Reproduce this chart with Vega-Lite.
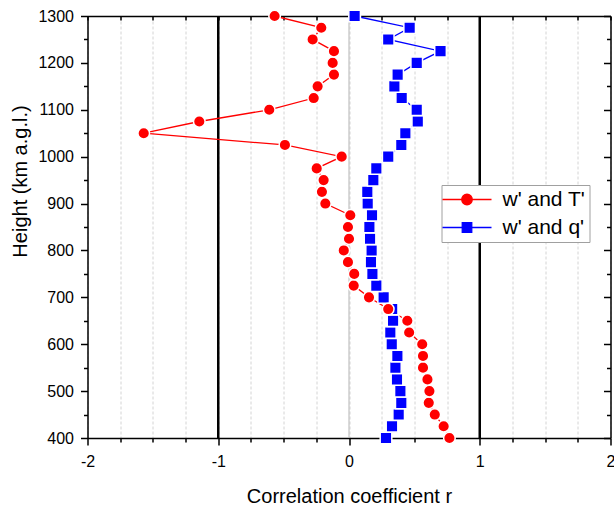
{
  "$schema": "https://vega.github.io/schema/vega-lite/v6.json",
  "autosize": {"type": "none"},
  "padding": {"left": 87.5, "top": 16, "right": 3.5, "bottom": 70},
  "width": 523,
  "height": 422,
  "config": {
    "view": {"stroke": null},
    "font": "Liberation Sans",
    "axis": {
      "domainColor": "black",
      "domainWidth": 1.5,
      "tickColor": "black",
      "tickWidth": 1.5,
      "labelFont": "Liberation Sans",
      "labelFontSize": 16,
      "labelColor": "black",
      "labelFlush": false,
      "labelOverlap": false,
      "labelBound": false,
      "titleFont": "Liberation Sans",
      "titleFontSize": 20,
      "titleFontWeight": "normal",
      "titleColor": "black"
    },
    "legend": {
      "title": null,
      "orient": "none",
      "legendX": 354,
      "legendY": 169,
      "padding": 4,
      "strokeColor": "#a0a0a0",
      "fillColor": "white",
      "labelFont": "Liberation Sans",
      "labelFontSize": 21,
      "labelColor": "black",
      "symbolSize": 100,
      "symbolStrokeWidth": 1.3,
      "symbolOffset": 11,
      "labelOffset": 25,
      "rowPadding": 6
    }
  },
  "datasets": {
    "corr": [
      {"h": 400, "r": 0.283, "s": "w' and q'"},
      {"h": 425, "r": 0.329, "s": "w' and q'"},
      {"h": 450, "r": 0.38, "s": "w' and q'"},
      {"h": 475, "r": 0.40, "s": "w' and q'"},
      {"h": 500, "r": 0.393, "s": "w' and q'"},
      {"h": 525, "r": 0.367, "s": "w' and q'"},
      {"h": 550, "r": 0.355, "s": "w' and q'"},
      {"h": 575, "r": 0.37, "s": "w' and q'"},
      {"h": 600, "r": 0.327, "s": "w' and q'"},
      {"h": 625, "r": 0.316, "s": "w' and q'"},
      {"h": 650, "r": 0.337, "s": "w' and q'"},
      {"h": 675, "r": 0.33, "s": "w' and q'"},
      {"h": 700, "r": 0.265, "s": "w' and q'"},
      {"h": 725, "r": 0.209, "s": "w' and q'"},
      {"h": 750, "r": 0.179, "s": "w' and q'"},
      {"h": 775, "r": 0.168, "s": "w' and q'"},
      {"h": 800, "r": 0.173, "s": "w' and q'"},
      {"h": 825, "r": 0.161, "s": "w' and q'"},
      {"h": 850, "r": 0.156, "s": "w' and q'"},
      {"h": 875, "r": 0.176, "s": "w' and q'"},
      {"h": 900, "r": 0.143, "s": "w' and q'"},
      {"h": 925, "r": 0.14, "s": "w' and q'"},
      {"h": 950, "r": 0.186, "s": "w' and q'"},
      {"h": 975, "r": 0.209, "s": "w' and q'"},
      {"h": 1000, "r": 0.30, "s": "w' and q'"},
      {"h": 1025, "r": 0.40, "s": "w' and q'"},
      {"h": 1050, "r": 0.431, "s": "w' and q'"},
      {"h": 1075, "r": 0.526, "s": "w' and q'"},
      {"h": 1100, "r": 0.518, "s": "w' and q'"},
      {"h": 1125, "r": 0.403, "s": "w' and q'"},
      {"h": 1150, "r": 0.347, "s": "w' and q'"},
      {"h": 1175, "r": 0.372, "s": "w' and q'"},
      {"h": 1200, "r": 0.518, "s": "w' and q'"},
      {"h": 1225, "r": 0.70, "s": "w' and q'"},
      {"h": 1250, "r": 0.30, "s": "w' and q'"},
      {"h": 1275, "r": 0.464, "s": "w' and q'"},
      {"h": 1300, "r": 0.043, "s": "w' and q'"},
      {"h": 400, "r": 0.768, "s": "w' and T'"},
      {"h": 425, "r": 0.724, "s": "w' and T'"},
      {"h": 450, "r": 0.656, "s": "w' and T'"},
      {"h": 475, "r": 0.61, "s": "w' and T'"},
      {"h": 500, "r": 0.615, "s": "w' and T'"},
      {"h": 525, "r": 0.60, "s": "w' and T'"},
      {"h": 550, "r": 0.566, "s": "w' and T'"},
      {"h": 575, "r": 0.566, "s": "w' and T'"},
      {"h": 600, "r": 0.56, "s": "w' and T'"},
      {"h": 625, "r": 0.46, "s": "w' and T'"},
      {"h": 650, "r": 0.446, "s": "w' and T'"},
      {"h": 675, "r": 0.30, "s": "w' and T'"},
      {"h": 700, "r": 0.153, "s": "w' and T'"},
      {"h": 725, "r": 0.036, "s": "w' and T'"},
      {"h": 750, "r": 0.04, "s": "w' and T'"},
      {"h": 775, "r": -0.008, "s": "w' and T'"},
      {"h": 800, "r": -0.04, "s": "w' and T'"},
      {"h": 825, "r": 0.0, "s": "w' and T'"},
      {"h": 850, "r": -0.008, "s": "w' and T'"},
      {"h": 875, "r": 0.01, "s": "w' and T'"},
      {"h": 900, "r": -0.181, "s": "w' and T'"},
      {"h": 925, "r": -0.207, "s": "w' and T'"},
      {"h": 950, "r": -0.194, "s": "w' and T'"},
      {"h": 975, "r": -0.247, "s": "w' and T'"},
      {"h": 1000, "r": -0.056, "s": "w' and T'"},
      {"h": 1025, "r": -0.49, "s": "w' and T'"},
      {"h": 1050, "r": -1.57, "s": "w' and T'"},
      {"h": 1075, "r": -1.145, "s": "w' and T'"},
      {"h": 1100, "r": -0.61, "s": "w' and T'"},
      {"h": 1125, "r": -0.27, "s": "w' and T'"},
      {"h": 1150, "r": -0.24, "s": "w' and T'"},
      {"h": 1175, "r": -0.115, "s": "w' and T'"},
      {"h": 1200, "r": -0.125, "s": "w' and T'"},
      {"h": 1225, "r": -0.115, "s": "w' and T'"},
      {"h": 1250, "r": -0.278, "s": "w' and T'"},
      {"h": 1275, "r": -0.212, "s": "w' and T'"},
      {"h": 1300, "r": -0.569, "s": "w' and T'"}
    ],
    "thick": [{"r": -1}, {"r": 1}],
    "zero": [{"r": 0}]
  },
  "resolve": {"axis": {"x": "independent", "y": "independent"}},
  "layer": [
    {
      "data": {"name": "thick"},
      "mark": {"type": "rule", "color": "black", "strokeWidth": 2.5},
      "encoding": {
        "x": {
          "field": "r", "type": "quantitative",
          "scale": {"domain": [-2, 2], "nice": false, "zero": false},
          "axis": {
            "orient": "top",
            "values": [-2, -1.75, -1.5, -1.25, -1, -0.75, -0.5, -0.25, 0, 0.25, 0.5, 0.75, 1, 1.25, 1.5, 1.75, 2],
            "labels": false, "grid": false, "title": null,
            "tickSize": -4
          }
        }
      }
    },
    {
      "data": {"name": "zero"},
      "mark": {"type": "rule", "color": "#b4b4b4", "strokeWidth": 1},
      "encoding": {
        "x": {"field": "r", "type": "quantitative", "axis": null}
      }
    },
    {
      "data": {"name": "corr"},
      "mark": {"type": "line", "strokeWidth": 1.3, "clip": false},
      "encoding": {
        "x": {
          "field": "r", "type": "quantitative",
          "axis": {
            "orient": "bottom",
            "values": [-2, -1.75, -1.5, -1.25, -1, -0.75, -0.5, -0.25, 0, 0.25, 0.5, 0.75, 1, 1.25, 1.5, 1.75, 2],
            "labelExpr": "datum.value % 1 === 0 ? '' + datum.value : ''",
            "tickSize": {"condition": {"test": "datum.value % 1 === 0", "value": 7}, "value": 4},
            "labelPadding": 8,
            "grid": true,
            "gridColor": "#d4d4d4",
            "gridDash": [3, 2],
            "gridWidth": 1,
            "title": "Correlation coefficient r",
            "titleX": 261.5,
            "titleY": 64,
            "titleAlign": "center",
            "titleBaseline": "alphabetic"
          }
        },
        "y": {
          "field": "h", "type": "quantitative",
          "scale": {"domain": [400, 1300], "nice": false, "zero": false},
          "axis": {
            "orient": "left",
            "values": [400, 450, 500, 550, 600, 650, 700, 750, 800, 850, 900, 950, 1000, 1050, 1100, 1150, 1200, 1250, 1300],
            "labelExpr": "datum.value % 100 === 0 ? '' + datum.value : ''",
            "tickSize": {"condition": {"test": "datum.value % 100 === 0", "value": 7}, "value": 4},
            "labelPadding": 7,
            "grid": false,
            "title": "Height (km a.g.l.)",
            "titleAngle": -90,
            "titleX": -67,
            "titleY": 165,
            "titleAlign": "center",
            "titleBaseline": "middle"
          }
        },
        "color": {
          "field": "s", "type": "nominal",
          "scale": {"domain": ["w' and T'", "w' and q'"], "range": ["#ff0000", "#0000ff"]},
          "legend": {
            "symbolType": {"expr": "datum.index === 0 ? 'M-4.9,0H4.9M1.05,0A1.05,1.05,0,1,1,-1.05,0A1.05,1.05,0,1,1,1.05,0Z' : 'M-4.9,0H4.9M-0.95,-0.95H0.95V0.95H-0.95Z'"}
          }
        },
        "order": {"field": "h", "type": "quantitative"}
      }
    },
    {
      "data": {"name": "corr"},
      "mark": {"type": "point", "filled": true, "opacity": 1, "stroke": "white", "strokeWidth": 1.5, "clip": false},
      "encoding": {
        "x": {"field": "r", "type": "quantitative", "axis": null},
        "y": {
          "field": "h", "type": "quantitative",
          "axis": {
            "orient": "right",
            "values": [400, 450, 500, 550, 600, 650, 700, 750, 800, 850, 900, 950, 1000, 1050, 1100, 1150, 1200, 1250, 1300],
            "labels": false, "grid": false, "title": null,
            "tickSize": {"condition": {"test": "datum.value % 100 === 0", "value": -7}, "value": -4}
          }
        },
        "color": {
          "field": "s", "type": "nominal",
          "scale": {"domain": ["w' and T'", "w' and q'"], "range": ["#ff0000", "#0000ff"]},
          "legend": {
            "symbolType": {"expr": "datum.index === 0 ? 'M-4.9,0H4.9M1.05,0A1.05,1.05,0,1,1,-1.05,0A1.05,1.05,0,1,1,1.05,0Z' : 'M-4.9,0H4.9M-0.95,-0.95H0.95V0.95H-0.95Z'"}
          }
        },
        "shape": {
          "condition": {"test": "datum.s === \"w' and T'\"", "value": "circle"},
          "value": "square"
        },
        "size": {"value": 135}
      }
    }
  ]
}
